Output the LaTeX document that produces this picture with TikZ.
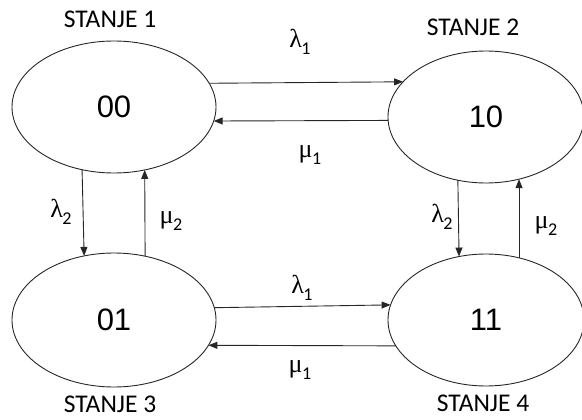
\documentclass[tikz,border=0pt]{standalone}
\usepackage{fontspec}
\setmainfont{Liberation Sans}
\newfontfamily\calfont{Carlito}
\newfontfamily\grkfont{Liberation Serif}
\usetikzlibrary{shapes.geometric,arrows.meta}
\newcommand\ratelbl[2]{{\grkfont #1}\hspace{-0.5pt}\raisebox{-0.5ex}{\calfont\fontsize{18}{18}\selectfont #2}}
\begin{document}
\begin{tikzpicture}[x=1pt,y=-1pt,
  state/.style={ellipse,draw=black!85,line width=0.9pt,minimum width=204pt,minimum height=132pt,inner sep=0pt,outer sep=0pt,font=\fontsize{31}{31}\selectfont},
  stlabel/.style={font=\calfont\fontsize{25.5}{25.5}\selectfont,inner sep=0pt},
  conn/.style={draw=black!85,line width=0.9pt,-{Triangle[length=9pt,width=7pt]}},
  rate/.style={font=\fontsize{26}{26}\selectfont,inner sep=0pt}]
\useasboundingbox (0,0) rectangle (582,420);
\node[state] (s1) at (114,107) {00};
\node[state,minimum width=196pt] (s2) at (486,117) {10};
\node[state,minimum height=134pt] (s3) at (114,320) {01};
\node[state,minimum width=196pt] (s4) at (486,320) {11};
\node[stlabel] (t1) at (110,19) {STANJE 1};
\node[stlabel] (t2) at (473,27) {STANJE 2};
\node[stlabel] (t3) at (110,404) {STANJE 3};
\node[stlabel] (t4) at (483,403) {STANJE 4};
% horizontal top
\draw[conn] (s1.14.18) -- (s2.157.96);
\draw[conn] (s2.182.93) -- (s1.-8.59);
% horizontal bottom
\draw[conn] (s3.7.99) -- (s4.171.68);
\draw[conn] (s4.196.10) -- (s3.-15.46);
% vertical left
\draw[conn] (s1.243.76) -- (s3.115.91);
\draw[conn] (s3.64.89) -- (s1.-64.57);
% vertical right
\draw[conn] (s2.246.12) -- (s4.113.88);
\draw[conn] (s4.62.03) -- (s2.-62.03);
% rate labels
\node[rate] (r1) at (300,42) {\ratelbl{λ}{1}};
\node[rate] (r2) at (310,155) {\ratelbl{μ}{1}};
\node[rate] (r3) at (61,212) {\ratelbl{λ}{2}};
\node[rate] (r4) at (171,221) {\ratelbl{μ}{2}};
\node[rate] (r5) at (442,217) {\ratelbl{λ}{2}};
\node[rate] (r6) at (546,226) {\ratelbl{μ}{2}};
\node[rate] (r7) at (302,288) {\ratelbl{λ}{1}};
\node[rate] (r8) at (300,370) {\ratelbl{μ}{1}};
\end{tikzpicture}
\end{document}
